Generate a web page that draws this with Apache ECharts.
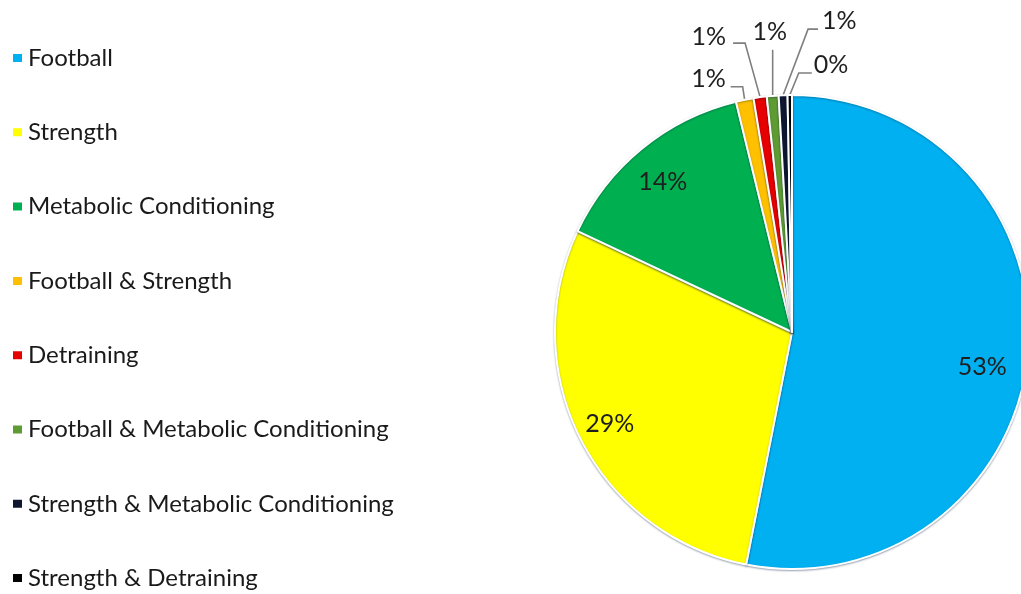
<!DOCTYPE html>
<html>
<head>
<meta charset="utf-8">
<script src="https://cdn.jsdelivr.net/npm/echarts@6/dist/echarts.min.js"></script>
<style>
  html, body { margin: 0; padding: 0; background: #ffffff; }
  #chart { width: 1021px; height: 594px; }
</style>
</head>
<body>
<div id="chart"></div>
<script>
// ---- data ----
const categories = [
  'Football',
  'Strength',
  'Metabolic Conditioning',
  'Football & Strength',
  'Detraining',
  'Football & Metabolic Conditioning',
  'Strength & Metabolic Conditioning',
  'Strength & Detraining'
];
const values = [53.1, 28.9, 14.2, 1.2, 0.9, 0.8, 0.6, 0.3];

// ---- styles ----
const colors = ['#00B0F0', '#FFFF00', '#00B050', '#FFC000', '#E60000', '#5E9B33', '#0E1630', '#000000'];
const CX = 792, CY = 332, R = 237;
const INNER_FACTOR = 1.68; // move inside labels from r/2 to ~0.84r
const INNER_SHIFT = { 0: [-13, 15], 1: [0, 0], 2: [0, 8] };
// leader geometry per small slice: bend offset from edge point, horizontal run, label offset, align
const LEADER = {
  3: { bend: [-2, -13],  run: -12, lab: [-5, -8],  align: 'right' },
  4: { bend: [-15, -54], run: -12, lab: [-7, -6],  align: 'right' },
  5: { bend: [0, -46],   run: 0,   lab: [-3, -18], align: 'center' },
  6: { bend: [25, -66],  run: 10,  lab: [4, -8],   align: 'left' },
  7: { bend: [9, -22],   run: 13,  lab: [2, -8],   align: 'left' }
};

const chart = echarts.init(document.getElementById('chart'), null, { renderer: 'canvas' });

const data = categories.map((name, i) => {
  const inside = i < 3;
  return {
    name: name,
    value: values[i],
    itemStyle: { color: colors[i] },
    label: { position: inside ? 'inside' : 'outside' },
    labelLine: { show: !inside }
  };
});

chart.setOption({
  animation: false,
  backgroundColor: '#ffffff',
  legend: {
    orient: 'vertical',
    left: 11,
    top: 46,
    height: 548,
    padding: 0,
    icon: 'rect',
    itemWidth: 11,
    itemHeight: 10,
    itemGap: 50.3,
    itemTextGap: 17,
    selectedMode: false,
    data: categories,
    textStyle: {
      fontFamily: 'Lato',
      fontSize: 24,
      lineHeight: 24,
      color: '#1a1a1a'
    }
  },
  series: [{
    type: 'pie',
    center: [CX, CY],
    radius: R,
    startAngle: 90,
    clockwise: true,
    avoidLabelOverlap: false,
    itemStyle: {
      borderColor: '#ffffff',
      borderWidth: 2,
      shadowColor: 'rgba(0, 30, 60, 0.35)',
      shadowBlur: 2,
      shadowOffsetY: 1
    },
    label: {
      show: true,
      fontFamily: 'Lato',
      fontSize: 25,
      color: '#1f1f1f',
      formatter: p => Math.round(p.percent) + '%'
    },
    labelLine: {
      show: true,
      length: 20,
      length2: 10,
      lineStyle: { color: '#7f7f7f', width: 1.6 }
    },
    labelLayout: function (params) {
      const i = params.dataIndex;
      if (i < 3) {
        const r = params.labelRect;
        const lx = r.x + r.width / 2, ly = r.y + r.height / 2;
        const s = INNER_SHIFT[i];
        return {
          x: CX + (lx - CX) * INNER_FACTOR + s[0],
          y: CY + (ly - CY) * INNER_FACTOR + s[1],
          align: 'center',
          verticalAlign: 'middle'
        };
      }
      const g = LEADER[i];
      const pts = params.labelLinePoints;
      if (!g || !pts) return {};
      const p0 = pts[0];
      const p1 = [p0[0] + g.bend[0], p0[1] + g.bend[1]];
      const p2 = [p1[0] + g.run, p1[1]];
      return {
        x: p2[0] + g.lab[0],
        y: p2[1] + g.lab[1],
        align: g.align,
        verticalAlign: 'middle',
        labelLinePoints: [p0, p1, p2]
      };
    },
    data: data
  }]
});
</script>
</body>
</html>
